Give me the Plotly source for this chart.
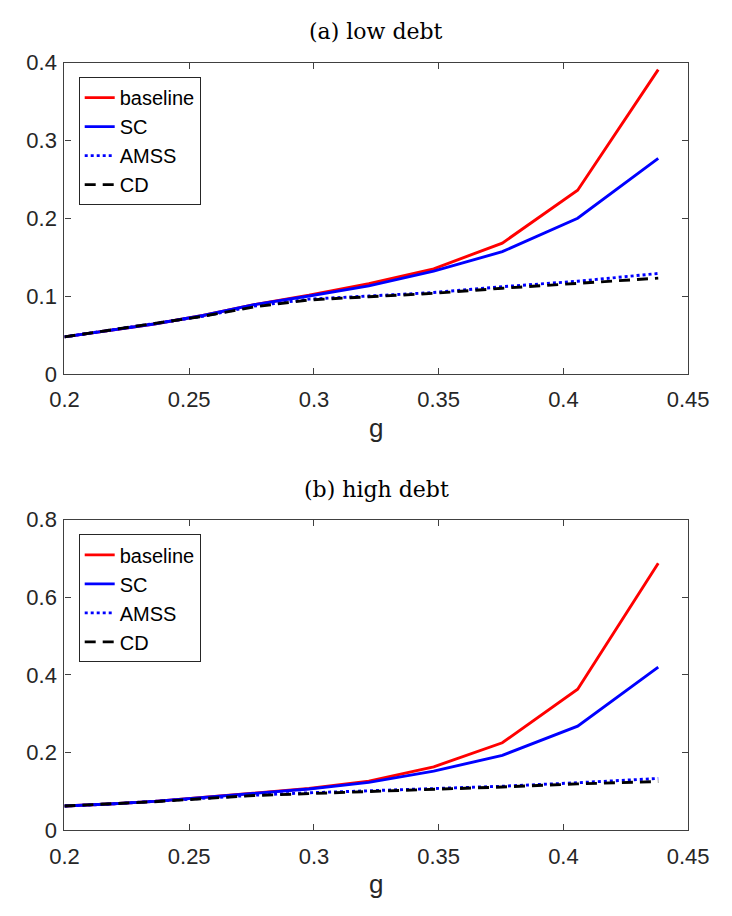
import plotly.graph_objects as go

# ---- data ----
g = [0.2, 0.218, 0.236, 0.2555, 0.276, 0.298, 0.322, 0.348, 0.3755, 0.4057, 0.438]

low_baseline = [0.0475, 0.056, 0.064, 0.075, 0.089, 0.101, 0.116, 0.135, 0.168, 0.236, 0.391]
low_sc       = [0.0475, 0.056, 0.064, 0.075, 0.089, 0.100, 0.113, 0.132, 0.157, 0.200, 0.277]
low_amss     = [0.0475, 0.056, 0.064, 0.074, 0.087, 0.096, 0.100, 0.1045, 0.112, 0.119, 0.129]
low_cd       = [0.0475, 0.056, 0.064, 0.074, 0.086, 0.095, 0.099, 0.1035, 0.110, 0.1167, 0.123]

high_baseline = [0.062, 0.067, 0.074, 0.084, 0.096, 0.107, 0.126, 0.163, 0.225, 0.363, 0.688]
high_sc       = [0.062, 0.067, 0.074, 0.084, 0.095, 0.106, 0.123, 0.152, 0.1925, 0.268, 0.420]
high_amss     = [0.062, 0.067, 0.074, 0.082, 0.090, 0.096, 0.101, 0.107, 0.113, 0.122, 0.133]
high_cd       = [0.062, 0.067, 0.073, 0.081, 0.089, 0.094, 0.099, 0.105, 0.111, 0.119, 0.125]

names = ["baseline", "SC", "AMSS", "CD"]
colors = ["#FF0000", "#0000FF", "#0000FF", "#000000"]
dashes = ["solid", "solid", "3px,3px", "11px,7px"]

x_ticks = [0.2, 0.25, 0.3, 0.35, 0.4, 0.45]
x_tick_text = ["0.2", "0.25", "0.3", "0.35", "0.4", "0.45"]
y_ticks_low = [0, 0.1, 0.2, 0.3, 0.4]
y_ticks_high = [0, 0.2, 0.4, 0.6, 0.8]

W, H = 732, 916
fig = go.Figure()

panels = [
    ([low_baseline, low_sc, low_amss, low_cd], "x", "y", "legend"),
    ([high_baseline, high_sc, high_amss, high_cd], "x2", "y2", "legend2"),
]
for series, xa, ya, lg in panels:
    for s, nm, c, d in zip(series, names, colors, dashes):
        fig.add_trace(go.Scatter(
            x=g, y=s, mode="lines", name=nm,
            line=dict(color=c, width=2.9, dash=d),
            xaxis=xa, yaxis=ya, legend=lg,
        ))

sans = "Liberation Sans, Arial, sans-serif"
tickfont = dict(family=sans, size=22, color="#262626")
axis_common = dict(
    showline=True, linecolor="#404040", linewidth=1.2, mirror="ticks",
    ticks="inside", ticklen=6, tickcolor="#404040", tickwidth=1,
    showgrid=False, zeroline=False, tickfont=tickfont,
)

xd = [52 / W, 708 / W]
top_y = [1 - 372 / H, 1 - 52 / H]
bot_y = [1 - 841 / H, 1 - 522 / H]

fig.update_layout(
    width=W, height=H,
    margin=dict(l=0, r=0, t=0, b=0),
    paper_bgcolor="white", plot_bgcolor="white",
    xaxis=dict(domain=xd, range=[0.2, 0.45], tickvals=x_ticks, ticktext=x_tick_text,
               anchor="y", ticklabelstandoff=6, **axis_common),
    yaxis=dict(domain=top_y, range=[0, 0.4], tickvals=y_ticks_low,
               ticktext=[str(v) for v in y_ticks_low], anchor="x",
               ticklabelstandoff=2, **axis_common),
    xaxis2=dict(domain=xd, range=[0.2, 0.45], tickvals=x_ticks, ticktext=x_tick_text,
                anchor="y2", ticklabelstandoff=6, **axis_common),
    yaxis2=dict(domain=bot_y, range=[0, 0.8], tickvals=y_ticks_high,
                ticktext=[str(v) for v in y_ticks_high], anchor="x2",
                ticklabelstandoff=2, **axis_common),
    showlegend=True,
)

legend_common = dict(
    xanchor="left", yanchor="top", bgcolor="white",
    bordercolor="#262626", borderwidth=1,
    font=dict(family=sans, size=20, color="#000000"),
    itemwidth=30, tracegroupgap=0, traceorder="normal",
)
fig.update_layout(
    legend=dict(x=67 / W, y=1 - 67 / H, **legend_common),
    legend2=dict(x=67 / W, y=1 - 537 / H, **legend_common),
)

title_font = dict(family="DejaVu Serif, Liberation Serif, serif", size=22, color="#000000")
label_font = dict(family=sans, size=26, color="#262626")
cx = (xd[0] + xd[1]) / 2
fig.add_annotation(text="(a) low debt", x=cx, y=1 - 20 / H, xref="paper", yref="paper",
                   showarrow=False, font=title_font, xanchor="center", yanchor="middle")
fig.add_annotation(text="(b) high debt", x=cx, y=1 - 491 / H, xref="paper", yref="paper",
                   showarrow=False, font=title_font, xanchor="center", yanchor="middle")
fig.add_annotation(text="g", x=cx, y=1 - 428 / H, xref="paper", yref="paper",
                   showarrow=False, font=label_font, xanchor="center", yanchor="middle")
fig.add_annotation(text="g", x=cx, y=1 - 896 / H, xref="paper", yref="paper",
                   showarrow=False, font=label_font, xanchor="center", yanchor="middle")

fig.write_html("out.html")
